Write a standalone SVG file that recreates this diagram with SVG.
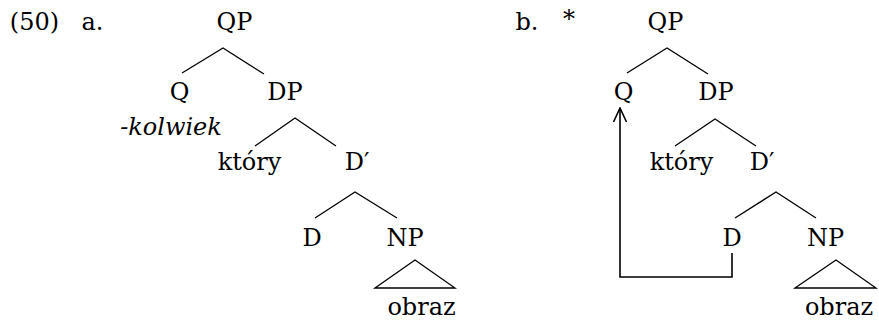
<svg xmlns="http://www.w3.org/2000/svg" width="879" height="324" viewBox="0 0 879 324">
  <style>
    text { font-family: "DejaVu Serif", "Liberation Serif", serif; font-size: 24px; fill: #000; text-anchor: middle; }
    .it { font-style: italic; }
    .br { stroke: #000; stroke-width: 1.3; fill: none; }
    .mv { stroke: #000; stroke-width: 1.6; fill: none; }
  </style>
  <defs>
    <!-- open V arrowhead, drawn pointing along +x -->
    <marker id="head" viewBox="0 0 16 16" refX="15" refY="8" markerWidth="16" markerHeight="16" markerUnits="userSpaceOnUse" orient="auto">
      <path d="M1,1.5 L15,8 L1,14.5" stroke="#000" stroke-width="1.6" fill="none"/>
    </marker>
  </defs>

  <!-- example labels -->
  <g id="labels">
    <text x="34.5" y="30">(50)</text>
    <text x="92.5" y="30">a.</text>
    <text x="527" y="30">b.</text>
    <text x="569" y="27">*</text>
  </g>

  <!-- tree (a) -->
  <g id="a-QP"><text x="234.5" y="30">QP</text></g>
  <g id="a-Q"><text x="179.5" y="100">Q</text><text class="it" x="171" y="135">-kolwiek</text></g>
  <g id="a-DP"><text x="285" y="100">DP</text></g>
  <g id="a-ktory"><text x="249.5" y="170">który</text></g>
  <g id="a-Dbar"><text x="357" y="170">D′</text></g>
  <g id="a-D"><text x="312" y="246">D</text></g>
  <g id="a-NP"><text x="405" y="246">NP</text></g>
  <g id="a-obraz"><text x="421.5" y="315">obraz</text></g>

  <!-- tree (b) -->
  <g id="b-QP"><text x="665.5" y="30">QP</text></g>
  <g id="b-Q"><text x="623.5" y="100">Q</text></g>
  <g id="b-DP"><text x="716" y="100">DP</text></g>
  <g id="b-ktory"><text x="681.5" y="170">który</text></g>
  <g id="b-Dbar"><text x="762" y="170">D′</text></g>
  <g id="b-D"><text x="732" y="246">D</text></g>
  <g id="b-NP"><text x="825.5" y="246">NP</text></g>
  <g id="b-obraz"><text x="839" y="315">obraz</text></g>

  <!-- branches, triangles and the movement arrow -->
  <g id="connectors">
    <path class="br" d="M182,73 L223,48 L264,74"/>
    <path class="br" d="M255,146 L295,118 L336,146"/>
    <path class="br" d="M315,218 L355,192 L397,218"/>
    <path class="br" d="M375,288 L415,260 L455,288 Z"/>

    <path class="br" d="M627,73 L667,48 L708,74"/>
    <path class="br" d="M675,146 L715,119 L756,146"/>
    <path class="br" d="M735,218 L776,192 L816,218"/>
    <path class="br" d="M795,288 L836,260 L876,288 Z"/>

    <path class="mv" d="M732,253 L732,277 L620,277 L620,108" marker-end="url(#head)"/>
  </g>
</svg>
